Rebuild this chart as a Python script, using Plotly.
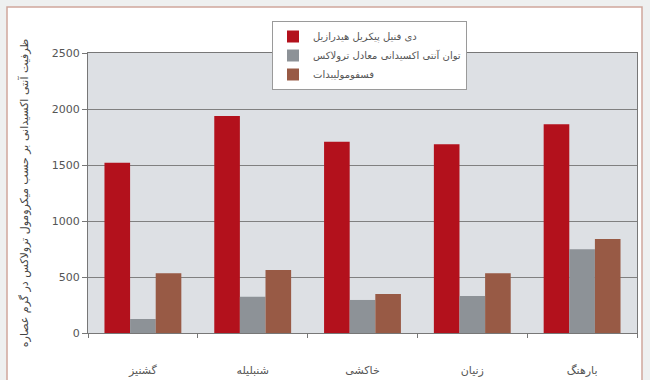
import plotly.graph_objects as go

categories = ["گشنیز", "شنبلیله", "خاکشی", "زنیان", "بارهنگ"]
series_names = ["دی فنیل پیکریل هیدرازیل", "توان آنتی اکسیدانی معادل ترولاکس", "فسفومولیبدات"]
dpph = [1520, 1937, 1708, 1685, 1863]
teac = [125, 324, 295, 330, 747]
phospho = [533, 562, 348, 533, 839]
y_ticks = [0, 500, 1000, 1500, 2000, 2500]
y_title = "ظرفیت آنتی اکسیدانی بر حسب میکرومول ترولاکس در گرم عصاره"

colors = ["#b3111c", "#8d9297", "#985a45"]
font = "DejaVu Sans, Arial, sans-serif"

fig = go.Figure()
for name, vals, c in zip(series_names, [dpph, teac, phospho], colors):
    fig.add_trace(go.Bar(x=categories, y=vals, name=name, marker=dict(color=c, line=dict(width=0))))

L, R, T, B = 88, 13, 53, 47
W, H = 650, 380
pw, ph = W - L - R, H - T - B

def px2paper_x(px):
    return (px - L) / pw

def px2paper_y(py):
    return (H - B - py) / ph

fig.add_shape(type="rect", xref="paper", yref="paper",
              x0=px2paper_x(7), x1=px2paper_x(642), y0=px2paper_y(395), y1=px2paper_y(7),
              line=dict(color="#cfa69c", width=1.5), fillcolor="white", layer="below")
fig.add_shape(type="rect", xref="paper", yref="paper",
              x0=0, x1=1, y0=0, y1=1,
              line=dict(width=0), fillcolor="#dde0e4", layer="below")

fig.update_layout(
    width=W, height=H,
    margin=dict(l=L, r=R, t=T, b=B, autoexpand=False),
    paper_bgcolor="#eef0f0",
    plot_bgcolor="rgba(0,0,0,0)",
    barmode="group",
    bargap=0.3,
    bargroupgap=0,
    font=dict(family=font, size=11, color="#444"),
    showlegend=True,
    legend=dict(
        x=px2paper_x(272), y=px2paper_y(21), xanchor="left", yanchor="top",
        bgcolor="white", bordercolor="#9a9a9a", borderwidth=1,
        font=dict(size=10, color="#555"),
        itemwidth=30, tracegroupgap=2,
    ),
    xaxis=dict(
        showgrid=False, ticks="outside", tickson="boundaries", ticklen=4,
        tickcolor="#777", showline=True, linecolor="#777", linewidth=1,
        ticklabelstandoff=27, tickfont=dict(size=11, color="#555"),
        mirror=True, automargin=False,
    ),
    yaxis=dict(
        range=[0, 2500], tickvals=y_ticks, showgrid=True, gridcolor="#808080", gridwidth=1,
        ticks="outside", ticklen=5, tickcolor="#777", showline=True, linecolor="#777",
        mirror=True, tickfont=dict(size=11, color="#555"), automargin=False,
        title=dict(text=y_title, font=dict(size=11, color="#444"), standoff=20),
        zeroline=False,
    ),
)

fig.write_html("out.html")
